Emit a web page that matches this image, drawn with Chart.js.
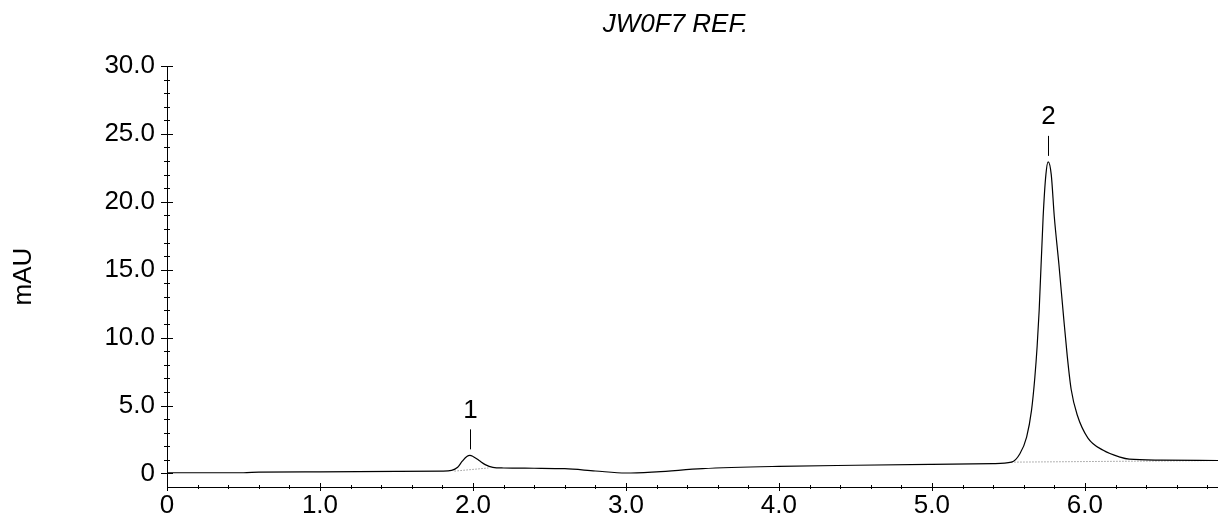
<!DOCTYPE html>
<html>
<head>
<meta charset="utf-8">
<script src="https://cdn.jsdelivr.net/npm/chart.js@4/dist/chart.umd.min.js"></script>
<style>
  body { margin: 0; background: #fff; }
  canvas { display: block; }
</style>
</head>
<body>
<canvas id="chrom" width="1218" height="518"></canvas>
<script>
// Chromatogram trace (time in min, signal in mAU)
var times = [0, 0.5, 0.6, 1.0, 1.5, 1.8, 1.86, 1.9, 1.93, 1.96, 1.98, 2.0, 2.04, 2.08, 2.13, 2.2, 2.4, 2.6, 2.8, 3.0,
             3.2, 3.5, 4.0, 4.5, 5.0, 5.4, 5.52, 5.575, 5.619, 5.651, 5.673, 5.688, 5.701, 5.727, 5.745, 5.76, 5.78,
             5.8, 5.83, 5.86, 5.885, 5.91, 5.95, 6.02, 6.12, 6.23, 6.29, 6.5, 6.87];
var signal = [0.05, 0.05, 0.1, 0.12, 0.15, 0.17, 0.22, 0.45, 0.9, 1.25, 1.33, 1.25, 0.95, 0.65, 0.45, 0.4, 0.38, 0.35, 0.18, 0.03,
              0.12, 0.35, 0.52, 0.6, 0.66, 0.72, 0.83, 1.45, 2.68, 4.64, 7.1, 9.4, 12.0, 18.9, 22.0, 22.94, 22.0,
              18.9, 15.4, 11.6, 8.6, 6.2, 4.3, 2.6, 1.7, 1.2, 1.05, 0.98, 0.95];

// integration baselines under the two peaks
var baseTimes = [1.88, 2.1, null, 5.52, 6.87];
var baseSignal = [0.17, 0.4, null, 0.83, 0.95];

// peak annotations
var peakLabels = ['1', '2'];
var peakTimes = [1.98, 5.76];
var peakHeights = [1.33, 22.94];

// axis ticks
var xTickValues = [0, 1, 2, 3, 4, 5, 6];
var xTickLabels = ['0', '1.0', '2.0', '3.0', '4.0', '5.0', '6.0'];
var yTickValues = [0, 5, 10, 15, 20, 25, 30];
var yTickLabels = ['0', '5.0', '10.0', '15.0', '20.0', '25.0', '30.0'];

var chartTitle = 'JW0F7 REF.';
var yTitle = 'mAU';

var fontFamily = '"Liberation Sans", Arial, sans-serif';

function toPoints(xs, ys) {
    return xs.map(function(x, i) {
        return x === null ? { x: NaN, y: null } : { x: x, y: ys[i] };
    });
}

// draws crossing ticks, peak markers and the title
var decorations = {
    id: 'decorations',
    afterDraw: function(chart) {
        var ctx = chart.ctx;
        var xs = chart.scales.x, ys = chart.scales.y;
        var area = chart.chartArea;
        ctx.save();
        ctx.strokeStyle = '#000';
        ctx.lineWidth = 1;
        ctx.beginPath();
        // x ticks, minor every 0.2
        for (var i = 0; i * 0.2 <= xs.max + 1e-9; i++) {
            var px = Math.round(xs.getPixelForValue(i * 0.2)) + 0.5;
            var major = i % 5 === 0;
            ctx.moveTo(px, area.bottom - (major ? 4 : 2));
            ctx.lineTo(px, area.bottom + (major ? 4 : 2));
        }
        // y ticks, minor every 1.0
        for (var j = 0; j <= 30; j++) {
            var py = Math.round(ys.getPixelForValue(j)) + 0.5;
            var maj = j % 5 === 0;
            ctx.moveTo(area.left - (maj ? 6 : 3), py);
            ctx.lineTo(area.left + (maj ? 6 : 3), py);
        }
        ctx.stroke();

        // peak markers
        ctx.fillStyle = '#000';
        ctx.font = '26px ' + fontFamily;
        ctx.textAlign = 'center';
        ctx.textBaseline = 'bottom';
        peakLabels.forEach(function(lbl, k) {
            var x = Math.round(xs.getPixelForValue(peakTimes[k])) + 0.5;
            var y = ys.getPixelForValue(peakHeights[k]);
            ctx.beginPath();
            ctx.moveTo(x, y - 6);
            ctx.lineTo(x, y - 26);
            ctx.stroke();
            ctx.fillText(lbl, x, y - 32);
        });

        // title
        ctx.font = 'italic 26px ' + fontFamily;
        ctx.textBaseline = 'middle';
        ctx.fillText(chartTitle, (area.left + area.right) / 2 - 17, 25);
        ctx.restore();
    }
};

new Chart(document.getElementById('chrom'), {
    type: 'scatter',
    data: {
        datasets: [{
            data: toPoints(times, signal),
            showLine: true,
            borderColor: '#000',
            borderWidth: 1.2,
            pointRadius: 0,
            cubicInterpolationMode: 'monotone'
        }, {
            data: toPoints(baseTimes, baseSignal),
            showLine: true,
            spanGaps: false,
            borderColor: '#666',
            borderWidth: 1,
            borderDash: [1, 2],
            pointRadius: 0
        }]
    },
    options: {
        responsive: false,
        animation: false,
        layout: { padding: { top: 66, right: 0, left: 0, bottom: 0 } },
        plugins: {
            legend: { display: false },
            tooltip: { enabled: false },
            title: { display: false }
        },
        scales: {
            x: {
                type: 'linear',
                min: 0,
                max: 6.87,
                afterBuildTicks: function(scale) {
                    scale.ticks = xTickValues.map(function(v) { return { value: v }; });
                },
                afterFit: function(scale) { scale.height = 31; },
                grid: { display: false, drawTicks: false },
                border: { display: true, color: '#000', width: 1 },
                ticks: {
                    color: '#000',
                    padding: 6,
                    maxRotation: 0,
                    font: { family: fontFamily, size: 26, lineHeight: 1 },
                    callback: function(v) {
                        var i = xTickValues.indexOf(v);
                        return i < 0 ? '' : xTickLabels[i];
                    }
                }
            },
            y: {
                type: 'linear',
                min: -1,
                max: 30,
                afterBuildTicks: function(scale) {
                    scale.ticks = yTickValues.map(function(v) { return { value: v }; });
                },
                afterFit: function(scale) { scale.width = 167; },
                grid: { display: false, drawTicks: false },
                border: { display: true, color: '#000', width: 1 },
                title: {
                    display: true,
                    text: yTitle,
                    color: '#000',
                    padding: { top: 8, bottom: 0 },
                    font: { family: fontFamily, size: 26 }
                },
                ticks: {
                    color: '#000',
                    padding: 12,
                    font: { family: fontFamily, size: 26 },
                    callback: function(v) {
                        var i = yTickValues.indexOf(v);
                        return i < 0 ? '' : yTickLabels[i];
                    }
                }
            }
        }
    },
    plugins: [decorations]
});
</script>
</body>
</html>
